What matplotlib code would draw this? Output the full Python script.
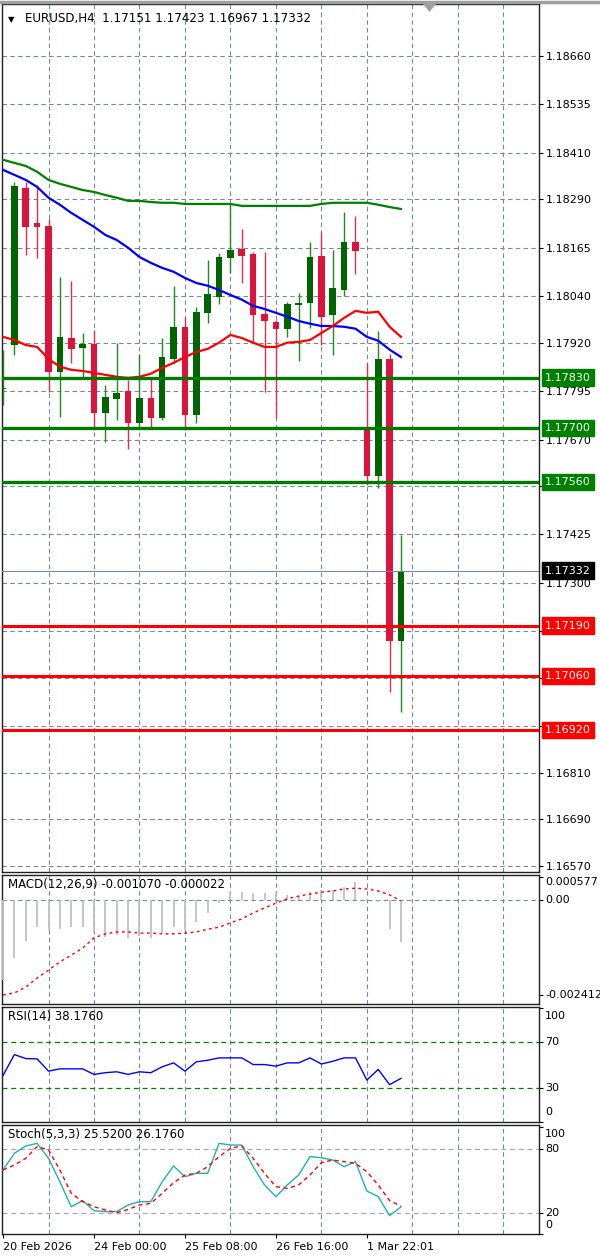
import matplotlib.pyplot as plt
from matplotlib.patches import Polygon
from matplotlib.transforms import blended_transform_factory

# EURUSD H4 candles
opens = [1.17801, 1.17914, 1.18319, 1.18229, 1.18221, 1.17845, 1.17932, 1.17907, 1.17917, 1.17739,
         1.17775, 1.17796, 1.17713, 1.17778, 1.17726, 1.17878, 1.17961, 1.17734, 1.17997, 1.18038,
         1.18139, 1.18162, 1.18149, 1.17994, 1.17974, 1.17956, 1.18018, 1.18023, 1.18144, 1.17992,
         1.18056, 1.18180, 1.17700, 1.17576, 1.17878, 1.17151]
highs = [1.17902, 1.18335, 1.18335, 1.18327, 1.18239, 1.18090, 1.18080, 1.17945, 1.17953, 1.17811,
         1.17920, 1.17824, 1.17891, 1.17827, 1.17932, 1.18067, 1.17987, 1.18012, 1.18134, 1.18152,
         1.18281, 1.18214, 1.18155, 1.18154, 1.17978, 1.18025, 1.18049, 1.18180, 1.18206, 1.18160,
         1.18258, 1.18247, 1.17868, 1.17951, 1.17891, 1.17423]
lows = [1.17760, 1.17889, 1.18147, 1.18139, 1.17793, 1.17729, 1.17868, 1.17832, 1.17703, 1.17664,
        1.17721, 1.17646, 1.17703, 1.17703, 1.17721, 1.17868, 1.17695, 1.17713, 1.17971, 1.18020,
        1.18100, 1.18074, 1.17920, 1.17793, 1.17726, 1.17935, 1.17873, 1.17958, 1.17914, 1.17889,
        1.18041, 1.18098, 1.17553, 1.17545, 1.17019, 1.16967]
closes = [1.17804, 1.18325, 1.18219, 1.18219, 1.17845, 1.17935, 1.17904, 1.17917, 1.17739, 1.17780,
          1.17791, 1.17713, 1.17778, 1.17726, 1.17883, 1.17961, 1.17734, 1.18000, 1.18046, 1.18141,
          1.18160, 1.18144, 1.17992, 1.17976, 1.17956, 1.18020, 1.18023, 1.18141, 1.17987, 1.18061,
          1.18180, 1.18157, 1.17576, 1.17878, 1.17151, 1.17332]

# moving averages
ma_green = [1.18392, 1.18384, 1.18376, 1.18361, 1.18340, 1.18330, 1.18322, 1.18314, 1.18309, 1.18301,
            1.18294, 1.18286, 1.18286, 1.18283, 1.18281, 1.18281, 1.18278, 1.18278, 1.18278, 1.18278,
            1.18278, 1.18273, 1.18273, 1.18273, 1.18273, 1.18273, 1.18273, 1.18273, 1.18278, 1.18281,
            1.18281, 1.18281, 1.18281, 1.18276, 1.18270, 1.18265]
ma_blue = [1.18366, 1.18353, 1.18340, 1.18322, 1.18294, 1.18276, 1.18255, 1.18237, 1.18219, 1.18198,
           1.18185, 1.18165, 1.18141, 1.18126, 1.18113, 1.18103, 1.18087, 1.18074, 1.18067, 1.18056,
           1.18043, 1.18031, 1.18015, 1.18007, 1.17997, 1.17987, 1.17976, 1.17969, 1.17963, 1.17963,
           1.17961, 1.17956, 1.17935, 1.17925, 1.17902, 1.17883]
ma_red = [1.17935, 1.17927, 1.17914, 1.17909, 1.17878, 1.17858, 1.17850, 1.17847, 1.17842, 1.17837,
          1.17832, 1.17829, 1.17832, 1.17840, 1.17855, 1.17868, 1.17883, 1.17896, 1.17904, 1.17920,
          1.17940, 1.17932, 1.17920, 1.17909, 1.17909, 1.17920, 1.17922, 1.17927, 1.17945, 1.17963,
          1.17984, 1.18002, 1.17997, 1.18000, 1.17961, 1.17935]

# horizontal levels
support_levels = [1.17830, 1.17700, 1.17560]
resist_levels = [1.17190, 1.17060, 1.16920]
last_price = 1.17332

# price scale; labels hidden behind the level boxes are left blank
price_ticks = [1.18660, 1.18535, 1.18410, 1.18290, 1.18165, 1.18040, 1.17920, 1.17795, 1.17670,
               1.17550, 1.17425, 1.17300, 1.17175, 1.17055, 1.16930, 1.16810, 1.16690, 1.16570]
hidden_ticks = [1.17550, 1.17175, 1.17055, 1.16930]

# indicators
macd_main = [-0.00203, -0.00147, -0.00104, -0.00069, -0.00079, -0.00074, -0.00069, -0.00069, -0.00081, -0.00094,
             -0.00089, -0.00096, -0.00091, -0.00096, -0.00084, -0.00069, -0.00076, -0.00056, -0.00033, -0.00008,
             0.00020, 0.00020, 0.00018, 0.00018, 0.00020, 0.00013, 0.00010, 0.00020, 0.00025, 0.00025,
             0.00033, 0.00045, 0.00003, -0.00005, -0.00074, -0.00107]
macd_signal = [-0.00241, -0.00236, -0.00221, -0.00198, -0.00178, -0.00157, -0.00140, -0.00122, -0.00096, -0.00086,
               -0.00081, -0.00081, -0.00084, -0.00084, -0.00086, -0.00086, -0.00084, -0.00081, -0.00074, -0.00069,
               -0.00058, -0.00048, -0.00033, -0.00020, -0.00008, 0.00003, 0.00010, 0.00015, 0.00020, 0.00023,
               0.00028, 0.00030, 0.00028, 0.00023, 0.00013, -0.00002]
rsi = [40.8, 59.2, 55.7, 55.4, 44.6, 46.6, 46.6, 46.6, 41.7, 43.2, 44.0, 41.7, 44.0, 43.2, 48.4, 51.9, 44.6, 52.8,
       54.2, 56.3, 56.3, 56.3, 50.4, 50.4, 49.0, 51.9, 51.9, 56.3, 50.9, 53.3, 56.3, 56.3, 36.7, 46.1, 32.6, 38.2]
stoch_k = [60.0, 75.7, 82.5, 85.0, 71.0, 49.0, 25.6, 31.3, 21.9, 21.0, 21.0, 27.2, 30.3, 30.3, 49.0, 63.8, 53.7, 56.9,
           56.9, 85.0, 83.4, 83.4, 63.1, 46.0, 35.0, 46.0, 55.3, 72.5, 71.5, 69.4, 63.1, 67.8, 40.3, 35.0, 17.2, 25.5]
stoch_d = [60.0, 64.7, 71.0, 81.9, 78.8, 60.0, 38.2, 30.3, 25.6, 22.5, 20.0, 23.0, 27.2, 28.7, 38.2, 48.1, 55.3, 56.9,
           63.1, 72.5, 80.3, 82.5, 71.0, 56.9, 44.4, 42.8, 46.0, 55.3, 66.9, 69.4, 67.8, 66.2, 58.4, 46.0, 31.3, 26.2]

date_pos = [0, 8, 16, 24, 32]
date_labels = ["20 Feb 2026", "24 Feb 00:00", "25 Feb 08:00", "26 Feb 16:00", "1 Mar 22:01"]

bars = list(range(len(opens)))
GRID = "#778899"
DASH = (0, (4, 3))
W, H = 600, 1258

fig = plt.figure(figsize=(W / 100, H / 100), dpi=100)
fig.patch.set_facecolor("white")


def panel(top, bottom):
    return fig.add_axes([2 / W, 1 - bottom / H, 537 / W, (bottom - top) / H])


ax = panel(4, 872)
ax_macd = panel(875, 1004)
ax_rsi = panel(1007, 1122)
ax_sto = panel(1125, 1234)

for a in (ax, ax_macd, ax_rsi, ax_sto):
    a.set_xlim(-0.09, 47.14)
    a.set_xticks(range(4, 48, 4), minor=True)
    a.set_xticks([])
    a.grid(True, which="minor", axis="x", color=GRID, ls=DASH, lw=0.8)
    a.tick_params(axis="x", which="both", bottom=False, labelbottom=False)
    a.yaxis.tick_right()
    a.tick_params(axis="y", direction="out", length=3, width=0.8, labelsize=8, pad=2, colors="black")
    for s in a.spines.values():
        s.set_color("#202020")
        s.set_linewidth(1)

# ---- price panel
ax.set_ylim(1.16554, 1.18794)
ax.set_yticks(price_ticks)
ax.set_yticklabels(["" if v in hidden_ticks else f"{v:.5f}" for v in price_ticks])
ax.grid(True, axis="y", color=GRID, ls=DASH, lw=0.8)

for i in bars:
    o, h, l, c = opens[i], highs[i], lows[i], closes[i]
    up = c >= o
    body = "#006400" if up else "#DC143C"
    wick = "#1E8B1E" if up else "#E0304F"
    ax.vlines(i, l, h, color=wick, lw=1.0, zorder=3)
    ax.bar(i, max(abs(c - o), 0.00003), bottom=min(o, c), width=0.58, color=body, zorder=4)

ax.plot(bars, ma_green, color="#008000", lw=1.6, zorder=5)
ax.plot(bars, ma_blue, color="#0000FF", lw=1.6, zorder=5)
ax.plot(bars, ma_red, color="#FF0000", lw=1.6, zorder=5)

ax.axhline(last_price, color=GRID, lw=0.8, zorder=5)
for v in support_levels:
    ax.axhline(v, color="#007A00", lw=2.4, zorder=6)
for v in resist_levels:
    ax.axhline(v, color="#FF0000", lw=2.2, zorder=6)

tr = blended_transform_factory(ax.transAxes, ax.transData)
boxes = [(v, "#008000") for v in support_levels] + [(last_price, "black")] + \
        [(v, "#FF0000") for v in resist_levels]
for v, col in boxes:
    ax.annotate(f"{v:.5f}", xy=(1, v), xycoords=tr, xytext=(4.3, 0), textcoords="offset points",
                ha="left", va="center", color="white", fontsize=8, zorder=20, annotation_clip=False,
                bbox=dict(boxstyle="square,pad=0.28", fc=col, ec=col))

ax.annotate("\u25bc", xy=(0, 1), xycoords="axes fraction", xytext=(4, -8), textcoords="offset points",
            ha="left", va="top", fontsize=6)
ax.annotate("EURUSD,H4  1.17151 1.17423 1.16967 1.17332", xy=(0, 1), xycoords="axes fraction",
            xytext=(16.5, -5.5), textcoords="offset points", ha="left", va="top", fontsize=8.6)

# shift marker and top border
fig.add_artist(Polygon([(423 / W, 1 - 4 / H), (436 / W, 1 - 4 / H), (429.5 / W, 1 - 12 / H)],
                       closed=True, transform=fig.transFigure, fc="#A0A0A0", ec="none"))
fig.add_artist(plt.Line2D([0, 1], [1 - 1.5 / H, 1 - 1.5 / H], transform=fig.transFigure,
                          color="#A0A0A0", lw=2.5))


def side_label(a, y, text, va="center", dy=0):
    t = blended_transform_factory(a.transAxes, a.transData)
    a.annotate(text, xy=(1, y), xycoords=t, xytext=(4.5, dy), textcoords="offset points",
               ha="left", va=va, fontsize=8, annotation_clip=False)


def panel_title(a, text):
    a.annotate(text, xy=(0, 1), xycoords="axes fraction", xytext=(4.3, -2.5), textcoords="offset points",
               ha="left", va="top", fontsize=8.5)


# ---- MACD
ax_macd.set_ylim(-0.00264, 0.000635)
ax_macd.axhline(0, color=GRID, ls=DASH, lw=0.8)
ax_macd.vlines(bars, 0, macd_main, color="#C0C0C0", lw=1.3, zorder=3)
ax_macd.plot(bars, macd_signal, color="#FF0000", ls=(0, (2, 2.5)), lw=1.0, zorder=4)
ax_macd.set_yticks([0.000577, 0.0, -0.002412])
ax_macd.set_yticklabels([])
side_label(ax_macd, 0.000577, "0.000577", va="top")
side_label(ax_macd, 0.0, "0.00")
side_label(ax_macd, -0.002412, "-0.002412")
panel_title(ax_macd, "MACD(12,26,9) -0.001070 -0.000022")

# ---- RSI
ax_rsi.set_ylim(-0.4, 101.3)
for lv in (70, 30):
    ax_rsi.axhline(lv, color="#008000", ls=DASH, lw=0.9)
ax_rsi.plot(bars, rsi, color="#0000FF", lw=1.0, zorder=4)
ax_rsi.set_yticks([100, 70, 30, 0])
ax_rsi.set_yticklabels([])
side_label(ax_rsi, 100, "100", va="top", dy=-2)
side_label(ax_rsi, 70, "70")
side_label(ax_rsi, 30, "30")
side_label(ax_rsi, 0, "0", va="bottom", dy=3)
panel_title(ax_rsi, "RSI(14) 38.1760")

# ---- Stochastic
ax_sto.set_ylim(0, 102.2)
for lv in (80, 20):
    ax_sto.axhline(lv, color="#A9A9A9", ls=DASH, lw=0.9)
ax_sto.plot(bars, stoch_k, color="#20B2AA", lw=1.0, zorder=4)
ax_sto.plot(bars, stoch_d, color="#FF0000", ls=(0, (3, 2.5)), lw=1.0, zorder=4)
ax_sto.set_yticks([100, 80, 20, 0])
ax_sto.set_yticklabels([])
side_label(ax_sto, 100, "100", va="top", dy=-1)
side_label(ax_sto, 80, "80")
side_label(ax_sto, 20, "20")
side_label(ax_sto, 0, "0", va="bottom", dy=3)
panel_title(ax_sto, "Stoch(5,3,3) 25.5200 26.1760")

ax_sto.set_xticks(date_pos)
ax_sto.set_xticklabels(date_labels)
ax_sto.tick_params(axis="x", which="major", bottom=True, labelbottom=True, direction="out",
                   length=3, width=0.8, labelsize=8, pad=3)
for lab in ax_sto.get_xticklabels():
    lab.set_horizontalalignment("left")

fig.savefig("out.png", dpi=100)
